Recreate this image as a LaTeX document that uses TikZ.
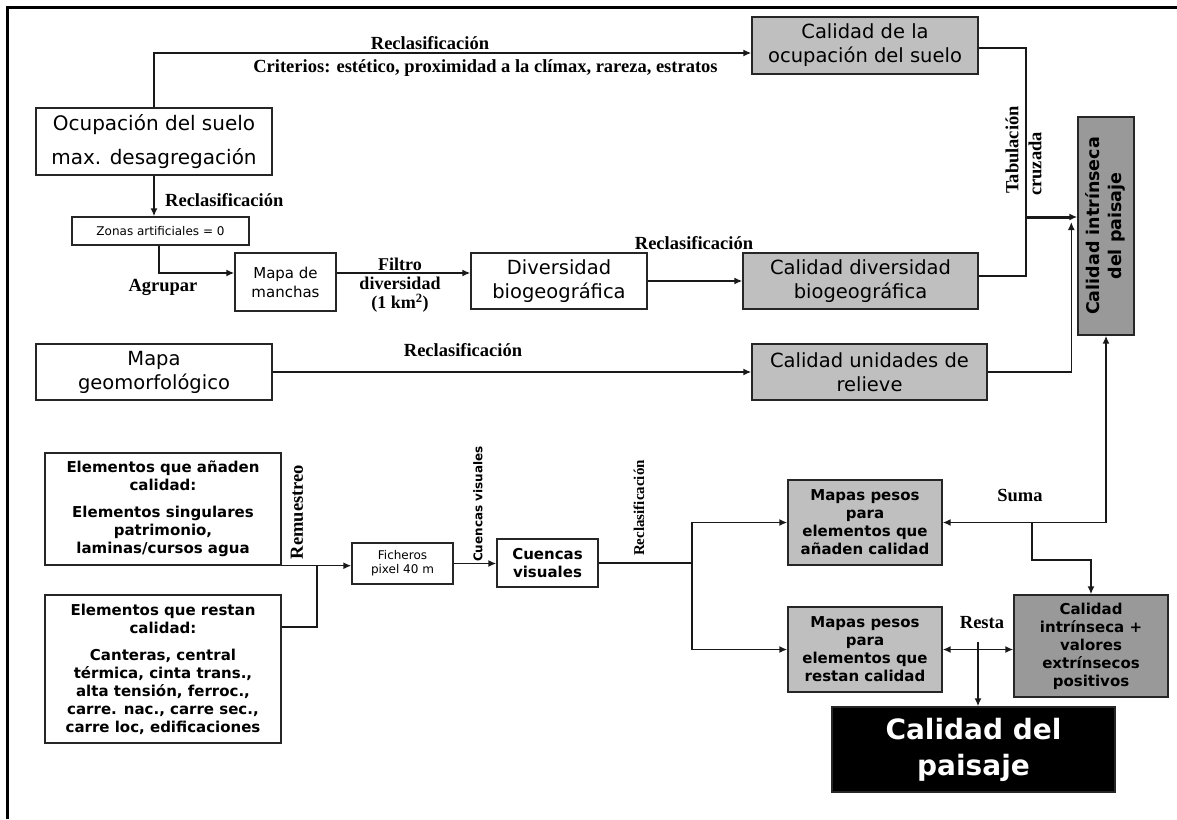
\documentclass[tikz,border=0pt]{standalone}
\usepackage{fontspec}
\setmainfont{DejaVu Sans}
\newfontfamily\lblserif{Liberation Serif}
\usetikzlibrary{arrows.meta}

\begin{document}
\begin{tikzpicture}[x=1pt,y=-1pt]
\tikzstyle{box}=[draw=black!85,line width=1.4pt,inner sep=0pt,align=center]
\tikzstyle{big}=[box,font=\fontsize{19.5}{24}\selectfont]
\tikzstyle{qual}=[big,fill=black!25]
\tikzstyle{wts}=[box,fill=black!25,font=\fontsize{15}{18}\selectfont\bfseries]
\tikzstyle{lbl}=[inner sep=0pt,font=\lblserif\bfseries\fontsize{18.5}{20}\selectfont]
\tikzstyle{arr}=[-{Latex[length=8pt,width=7pt]}]
\tikzstyle{arrs}=[{Latex[length=8pt,width=7pt]}-{Latex[length=8pt,width=7pt]}]
\tikzstyle{link}=[line width=1.5pt,black!90]

\useasboundingbox (0,0) rectangle (1177,819);
\draw[line width=3pt] (7,819) -- (7,7) -- (1177,7);

\node[box,minimum width=236pt,minimum height=67pt,font=\fontsize{20}{34}\selectfont] (N1) at (154,141.5) {Ocupación del suelo\\max. desagregación};
\node[qual,minimum width=226pt,minimum height=57pt] (N2) at (865,45.5) {Calidad de la\\ocupación del suelo};
\node[box,minimum width=177pt,minimum height=28pt,font=\fontsize{12}{14}\selectfont] (N3) at (160.5,231) {Zonas artificiales = 0};
\node[box,minimum width=101pt,minimum height=58pt,font=\fontsize{15}{19}\selectfont] (N4) at (285.5,282) {Mapa de\\manchas};
\node[big,minimum width=176pt,minimum height=56pt] (N5) at (559,281) {Diversidad\\biogeográfica};
\node[qual,minimum width=235pt,minimum height=56pt] (N6) at (860.5,281) {Calidad diversidad\\biogeográfica};
\node[big,minimum width=236pt,minimum height=56pt] (N7) at (154,372) {Mapa\\geomorfológico};
\node[qual,minimum width=235pt,minimum height=56pt] (N8) at (869.5,372) {Calidad unidades de\\relieve};
\node[box,fill=black!40,minimum width=56pt,minimum height=218pt,font=\fontsize{17.5}{22}\selectfont\bfseries] (N9) at (1106,226)
  {\rotatebox{90}{\begin{tabular}{@{}c@{}}Calidad intrínseca\\del paisaje\end{tabular}}};
\node[box,minimum width=236pt,minimum height=112pt,font=\fontsize{15}{18}\selectfont\bfseries] (N10) at (163,509)
  {Elementos que añaden\\calidad:\\[9pt]Elementos singulares\\patrimonio,\\laminas/cursos agua};
\node[box,minimum width=236pt,minimum height=148pt,font=\fontsize{15}{18}\selectfont\bfseries] (N11) at (163,669)
  {Elementos que restan\\calidad:\\[9pt]Canteras, central\\térmica, cinta trans.,\\alta tensión, ferroc.,\\carre. nac., carre sec.,\\carre loc, edificaciones};
\node[box,minimum width=101pt,minimum height=41pt,font=\fontsize{12}{14}\selectfont] (N12) at (402.5,563.5) {Ficheros\\pixel 40 m};
\node[box,minimum width=101pt,minimum height=48pt,font=\fontsize{15}{18}\selectfont\bfseries] (N13) at (547.5,563) {Cuencas\\visuales};
\node[wts,minimum width=154pt,minimum height=85pt] (N14) at (865,522.5) {Mapas pesos\\para\\elementos que\\añaden calidad};
\node[wts,minimum width=154pt,minimum height=85pt] (N15) at (865,649.5) {Mapas pesos\\para\\elementos que\\restan calidad};
\node[box,fill=black!40,minimum width=154pt,minimum height=102pt,font=\fontsize{15}{18}\selectfont\bfseries] (N16) at (1091,646)
  {Calidad\\intrínseca +\\valores\\extrínsecos\\positivos};
\node[box,fill=black,text=white,minimum width=283pt,minimum height=85pt,font=\fontsize{28}{36}\selectfont\bfseries] (N17) at (973.5,749.5) {Calidad del\\paisaje};

\draw[link,arr] (N1.north) |- ([yshift=-7.5pt]N2.west);
\draw[link,arr] (N1.south) -- (N1.south |- N3.north);
\draw[link,arr] ([xshift=-1.5pt]N3.south) |- ([yshift=9pt]N4.west);
\draw[link,arr] ([yshift=9pt]N4.east) -- ([yshift=9pt]N4.east -| N5.west);
\draw[link,arr] (N5.east) -- (N6.west);
\draw[link,arr] (N7.east) -- (N8.west);

\coordinate (T) at (1026,217);
\draw[link] ([yshift=-2.5pt]N2.east) -| (T) |- ([yshift=5pt]N6.east);
\draw[link,arr,line width=3pt] (T) -- (T -| N9.west);
\draw[link,arr] (N8.east) -| ([xshift=-6pt,yshift=4pt]N9.west);

\draw[link,arrs] (N9.south) |- (N14.east);
\coordinate (S) at (1032,522.5);
\coordinate (S2) at (1032,560);
\draw[link,arr] (S) -- (S2) -| (N16.north);

\draw[link,arrs] (N15.east) -- (N15.east -| N16.west);
\coordinate (R) at (978,642);
\draw[link,arr] (R) -- (R |- N17.north);

\draw[link,arr] (N10.south east) -- (N10.south east -| N12.west);
\coordinate (M) at (317,565);
\draw[link] ([yshift=42pt]N11.east) -| (M);
\draw[link,arr] (N12.east) -- (N12.east -| N13.west);
\coordinate (D) at (692,563);
\draw[link] (N13.east) -- (D);
\draw[link,arr] (D) |- (N14.west);
\draw[link,arr] (D) |- (N15.west);

\node[lbl] (L1) at (430,43) {Reclasificación};
\node[lbl] (L2) at (485.5,68) {Criterios: estético, proximidad a la clímax, rareza, estratos};
\node[lbl,anchor=west] (L3) at (165,200) {Reclasificación};
\node[lbl] (L4) at (163,287) {Agrupar};
\node[lbl,align=center,font=\lblserif\bfseries\fontsize{18}{19}\selectfont] (L5) at (400,285) {Filtro\\diversidad\\(1 km\textsuperscript{2})};
\node[lbl] (L6) at (694,243) {Reclasificación};
\node[lbl] (L7) at (463,350) {Reclasificación};
\node[lbl,rotate=90] (L8) at (1012,150) {Tabulación};
\node[lbl,rotate=90] (L9) at (1035,164) {cruzada};
\node[lbl,rotate=90] (L10) at (297,512) {Remuestreo};
\node[rotate=90,inner sep=0pt,font=\fontsize{12}{12}\selectfont\bfseries] (L11) at (478,504) {Cuencas visuales};
\node[lbl,rotate=90,font=\lblserif\bfseries\fontsize{15}{17}\selectfont] (L12) at (639,508) {Reclasificación};
\node[lbl] (L13) at (1020,495) {Suma};
\node[lbl] (L14) at (982,623) {Resta};
\end{tikzpicture}
\end{document}
